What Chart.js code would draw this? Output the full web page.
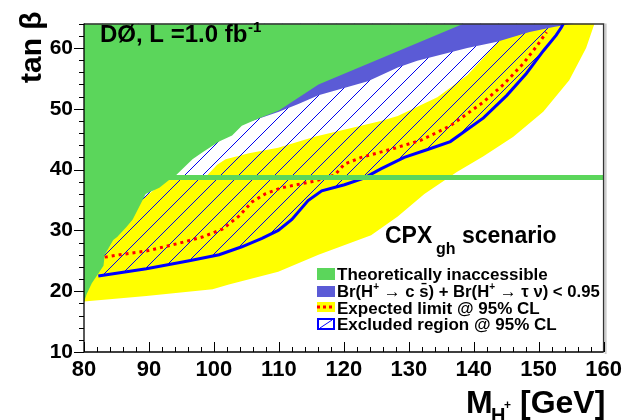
<!DOCTYPE html>
<html><head><meta charset="utf-8">
<script src="https://cdn.jsdelivr.net/npm/chart.js@4.4.1/dist/chart.umd.min.js"></script>
<style>html,body{margin:0;padding:0;background:#fff}canvas{display:block}</style>
</head><body>
<canvas id="c" width="627" height="420"></canvas>
<script>
// ---- tick labels ----
const xTicks = [80, 90, 100, 110, 120, 130, 140, 150, 160];
const yTicks = [10, 20, 30, 40, 50, 60];

// ---- theoretically inaccessible region (green): lower-right boundary ----
const greenX = [80, 80.4, 81.2, 81.9, 83.0, 83.2, 84.5, 85.1, 86.5, 87.5, 89.5, 91.6, 93.1, 94.2, 96.7, 98.2, 100.8, 102.8, 104.3, 106.4, 110.0, 116.1, 126.2, 138.5];
const greenY = [18.2, 19.5, 21.3, 22.4, 24.2, 26.0, 28.4, 28.9, 30.5, 31.8, 36.0, 37.0, 38.3, 39.1, 41.7, 42.8, 44.6, 45.6, 47.2, 48.2, 49.7, 54.0, 58.5, 64.0];

// ---- Br < 0.95 region (blue): lower boundary ----
const blueX = [106.4, 110.0, 113.0, 116.1, 123.7, 128.3, 131.3, 139.0, 143.6, 148.6, 152.5, 155.5];
const blueY = [48.2, 49.5, 50.8, 52.2, 54.5, 56.8, 57.9, 60.0, 61.0, 62.6, 63.5, 64.0];

// ---- expected +-1 sigma band (yellow) ----
const bandLowX = [80, 89.6, 99.8, 102.3, 109.9, 116.1, 124.2, 128.3, 132.4, 137.4, 141.5, 146.1, 150.7, 154.7, 157.3, 158.6];
const bandLowY = [18.3, 19.2, 20.3, 21.1, 23.2, 26.0, 29.2, 32.3, 36.0, 39.6, 42.2, 45.4, 49.5, 54.7, 60.0, 64.0];
const bandHighX = [145.5, 143.6, 139.0, 134.4, 128.3, 125.7, 115.5, 109.9, 105.4, 101.8, 100.5, 99.0];
const bandHighY = [64.0, 60.8, 55.5, 51.9, 48.8, 48.0, 45.4, 43.6, 42.7, 41.7, 40.8, 39.1];

// ---- observed limit (solid blue) ----
const obsX = [82.2, 89.6, 96.2, 100.8, 104.3, 107.4, 109.9, 112.0, 114.5, 116.6, 120.1, 123.1, 125.7, 129.3, 132.9, 136.4, 141.5, 145.1, 148.1, 150.7, 152.7, 153.5, 153.8];
const obsY = [22.5, 23.7, 25.0, 26.0, 27.3, 28.7, 30.0, 31.8, 34.9, 36.5, 37.5, 38.6, 40.1, 42.0, 43.3, 44.6, 48.5, 52.2, 55.8, 59.5, 62.1, 63.4, 64.0];

// ---- expected limit (red dotted) ----
const expX = [83.2, 85.5, 89.6, 94.7, 98.2, 101.3, 103.8, 105.9, 107.9, 110.4, 115.5, 118.6, 120.1, 122.7, 127.8, 131.8, 134.9, 136.4, 141.5, 144.6, 147.6, 149.7, 151.2];
const expY = [25.6, 26.0, 26.6, 27.9, 28.9, 30.2, 32.3, 34.7, 36.0, 37.0, 38.1, 39.1, 40.9, 42.0, 43.5, 44.8, 46.4, 47.2, 51.1, 54.0, 57.4, 60.3, 62.6];

// ---- horizontal inaccessible strip ----
const stripY = 38.7;

const X_MIN = 80, X_MAX = 160, Y_MIN = 10, Y_MAX = 64;

const GREEN = '#5bd65b', BLUE_REG = '#5b5bd6', YELLOW = '#ffff00';

function zip(xs, ys) { return xs.map((x, i) => ({x, y: ys[i]})); }

// polygons built from the arrays
const greenPoly = zip(greenX, greenY).concat([{x: X_MIN, y: Y_MAX}]);
const bluePoly = zip(blueX, blueY).concat([{x: 100, y: Y_MAX}, {x: 100, y: 46}]);
const yellowPoly = zip(bandLowX, bandLowY).concat(zip(bandHighX, bandHighY))
  .concat([{x: 97, y: 38.6}, {x: 93, y: 38.5}, {x: 84, y: 31}, {x: 80, y: 25}]);
const hatchPoly = zip(obsX, obsY).concat([{x: X_MIN, y: Y_MAX}, {x: X_MIN, y: 24}]);

// hatch pattern: aliased 45-degree blue lines
const tile = document.createElement('canvas');
tile.width = 18; tile.height = 18;
const tc = tile.getContext('2d');
tc.fillStyle = '#0000f0';
for (let i = 0; i < 18; i++) tc.fillRect(i, 17 - i, 1, 1);
const hatch = tc.createPattern(tile, 'repeat');

const FONT = "'Liberation Sans', Arial, Helvetica, sans-serif";

const decor = {
  id: 'decor',
  afterDatasetsDraw(chart) {
    const {ctx, chartArea: a, scales: {x, y}} = chart;
    ctx.save();
    // frame
    ctx.strokeStyle = '#333'; ctx.lineWidth = 1.5;
    ctx.beginPath(); ctx.moveTo(a.left, a.top + 0.5); ctx.lineTo(a.right, a.top + 0.5); ctx.lineTo(a.right, a.bottom); ctx.stroke();
    ctx.strokeStyle = '#ccc'; ctx.lineWidth = 2;
    ctx.beginPath(); ctx.moveTo(a.right + 2, a.top); ctx.lineTo(a.right + 2, a.bottom + 2); ctx.stroke();
    ctx.strokeStyle = '#000'; ctx.lineWidth = 1.3;
    ctx.beginPath(); ctx.moveTo(a.left, a.top); ctx.lineTo(a.left, a.bottom); ctx.lineTo(a.right, a.bottom); ctx.stroke();
    // ticks
    ctx.lineWidth = 1;
    for (let v = X_MIN; v <= X_MAX; v += 2) {
      const px = Math.round(x.getPixelForValue(v)) + 0.5;
      const len = xTicks.includes(v) ? 10 : 5;
      ctx.beginPath(); ctx.moveTo(px, a.bottom); ctx.lineTo(px, a.bottom - len); ctx.stroke();
    }
    for (let v = Y_MIN; v <= Y_MAX; v += 2) {
      const py = Math.round(y.getPixelForValue(v)) + 0.5;
      const len = yTicks.includes(v) ? 10 : 5;
      ctx.beginPath(); ctx.moveTo(a.left, py); ctx.lineTo(a.left - len, py); ctx.stroke();
    }
    // axis titles
    ctx.fillStyle = '#000';
    ctx.textBaseline = 'alphabetic'; ctx.textAlign = 'left';
    ctx.font = 'bold 32px ' + FONT;
    ctx.fillText('M', 466, 413);
    ctx.font = 'bold 20px ' + FONT;
    ctx.fillText('H', 491, 422);
    ctx.font = 'bold 12px ' + FONT;
    ctx.fillText('+', 504, 409);
    ctx.font = 'bold 32px ' + FONT;
    ctx.fillText('[GeV]', 520, 413);

    ctx.save();
    ctx.translate(41, 83); ctx.rotate(-Math.PI / 2);
    ctx.font = 'bold 30px ' + FONT;
    ctx.fillText('tan β', 0, 0);
    ctx.restore();

    // experiment label
    ctx.font = 'bold 24px ' + FONT;
    ctx.fillText('DØ, L =1.0 fb', 100, 42);
    ctx.font = 'bold 15px ' + FONT;
    ctx.fillText('-1', 248, 32);

    // scenario
    ctx.font = 'bold 23px ' + FONT;
    ctx.fillText('CPX', 385, 243);
    ctx.font = 'bold 16px ' + FONT;
    ctx.fillText('gh', 436, 254);
    ctx.font = 'bold 23px ' + FONT;
    ctx.fillText('scenario', 462, 243);

    // legend
    const lx = 317, lw = 18, tx = 337;
    ctx.fillStyle = GREEN; ctx.fillRect(lx, 268, lw, 12);
    ctx.fillStyle = BLUE_REG; ctx.fillRect(lx, 286, lw, 11);
    ctx.fillStyle = YELLOW; ctx.fillRect(lx, 302, lw, 10);
    ctx.strokeStyle = '#ff0000'; ctx.lineWidth = 3; ctx.setLineDash([3, 3]);
    ctx.beginPath(); ctx.moveTo(lx, 307); ctx.lineTo(lx + lw, 307); ctx.stroke();
    ctx.setLineDash([]);
    ctx.strokeStyle = '#0000ff'; ctx.lineWidth = 2;
    ctx.strokeRect(lx + 1, 319, lw - 2, 10);
    ctx.lineWidth = 1;
    ctx.beginPath(); ctx.moveTo(lx + 3, 328); ctx.lineTo(lx + lw - 3, 320); ctx.stroke();

    ctx.fillStyle = '#000';
    ctx.font = 'bold 17px ' + FONT;
    ctx.fillText('Theoretically inaccessible', tx, 279.5);
    let cx = tx;
    const seg = (t, f, dy) => { ctx.font = f; ctx.fillText(t, cx, 296.5 + (dy || 0)); cx += ctx.measureText(t).width; };
    const F = 'bold 16.7px ' + FONT, S = 'bold 10px ' + FONT, A = '17px ' + FONT;
    seg('Br(H', F); seg('+', S, -7); seg(' ', F); seg('→', A); seg(' c s̄) + Br(H', F); seg('+', S, -7); seg(' ', F); seg('→', A); seg(' τ ν) < 0.95', F);
    ctx.font = 'bold 17px ' + FONT;
    ctx.fillText('Expected limit @ 95% CL', tx, 313.5);
    ctx.fillText('Excluded region @ 95% CL', tx, 330);
    ctx.restore();
  }
};

const common = {pointRadius: 0, pointHoverRadius: 0, showLine: true, tension: 0};

new Chart(document.getElementById('c'), {
  type: 'scatter',
  data: {
    datasets: [
      {...common, label: 'strip', data: [{x: X_MIN, y: stripY}, {x: X_MAX, y: stripY}], borderColor: GREEN, borderWidth: 5, fill: false},
      {...common, label: 'Observed', data: zip(obsX, obsY), borderColor: '#0000ff', borderWidth: 3, fill: false},
      {...common, label: 'Expected limit @ 95% CL', data: zip(expX, expY), borderColor: '#ff0000', borderWidth: 3, borderDash: [3, 4], fill: false},
      {...common, label: 'Theoretically inaccessible', data: greenPoly, borderWidth: 0, borderColor: GREEN, backgroundColor: GREEN, fill: 'shape'},
      {...common, label: 'Br < 0.95', data: bluePoly, borderWidth: 0, borderColor: BLUE_REG, backgroundColor: BLUE_REG, fill: 'shape'},
      {...common, label: 'Excluded region @ 95% CL', data: hatchPoly, borderWidth: 0, borderColor: 'rgba(0,0,0,0)', backgroundColor: hatch, fill: 'shape'},
      {...common, label: 'band', data: yellowPoly, borderWidth: 0, borderColor: YELLOW, backgroundColor: YELLOW, fill: 'shape'}
    ]
  },
  options: {
    responsive: false, animation: false, devicePixelRatio: 1,
    layout: {padding: {left: 0, right: 20, top: 7, bottom: 0}},
    plugins: {legend: {display: false}, tooltip: {enabled: false}, title: {display: false}},
    scales: {
      x: {
        type: 'linear', min: X_MIN, max: X_MAX,
        afterBuildTicks: s => { s.ticks = xTicks.map(v => ({value: v})); },
        afterFit: s => { s.height = 68; },
        grid: {display: false, drawTicks: false}, border: {display: false},
        ticks: {color: '#000', font: {family: FONT, size: 22, weight: 'bold'}, padding: 5, maxRotation: 0, autoSkip: false}
      },
      y: {
        type: 'linear', min: Y_MIN, max: Y_MAX,
        afterBuildTicks: s => { s.ticks = yTicks.map(v => ({value: v})); },
        afterFit: s => { s.width = 84; },
        grid: {display: false, drawTicks: false}, border: {display: false},
        ticks: {color: '#000', font: {family: FONT, size: 21, weight: 'bold'}, padding: 11, autoSkip: false}
      }
    }
  },
  plugins: [decor]
});
</script>
</body></html>
